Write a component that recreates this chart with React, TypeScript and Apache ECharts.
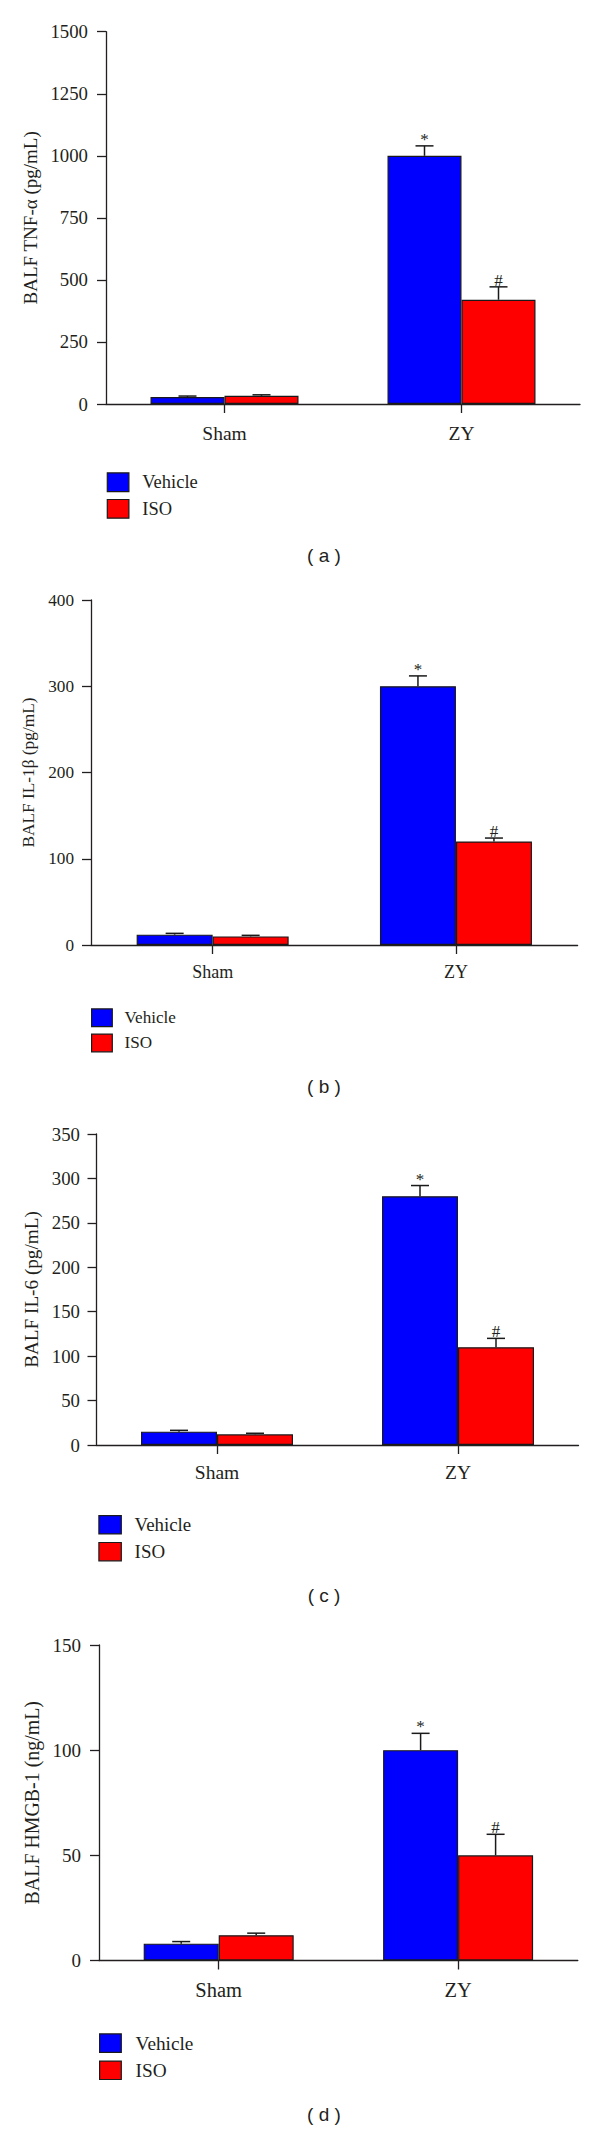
import React, { useEffect, useRef } from 'react';
import * as echarts from 'echarts';

// ---------- data ----------
const categories = ['Sham', 'ZY'];
const seriesNames = ['Vehicle', 'ISO'];

const tnfVehicle = [28, 1000];
const tnfVehicleErr = [4, 40];
const tnfIso = [33, 420];
const tnfIsoErr = [4, 52];

const il1bVehicle = [12, 300];
const il1bVehicleErr = [1.5, 12];
const il1bIso = [10, 120];
const il1bIsoErr = [1.2, 4];

const il6Vehicle = [15, 280];
const il6VehicleErr = [1.5, 12];
const il6Iso = [12, 110];
const il6IsoErr = [1.2, 10];

const hmgbVehicle = [8, 100];
const hmgbVehicleErr = [1, 8];
const hmgbIso = [12, 50];
const hmgbIsoErr = [1, 10];

const vehicleMarks = ['', '*'];
const isoMarks = ['', '#'];

const yNames = ['BALF TNF-α (pg/mL)', 'BALF IL-1β (pg/mL)', 'BALF IL-6 (pg/mL)', 'BALF HMGB-1 (ng/mL)'];
const yMax = [1500, 400, 350, 150];
const yStep = [250, 100, 50, 50];
const captions = ['( a )', '( b )', '( c )', '( d )'];

const vehicleValues = [tnfVehicle, il1bVehicle, il6Vehicle, hmgbVehicle];
const vehicleErrors = [tnfVehicleErr, il1bVehicleErr, il6VehicleErr, hmgbVehicleErr];
const isoValues = [tnfIso, il1bIso, il6Iso, hmgbIso];
const isoErrors = [tnfIsoErr, il1bIsoErr, il6IsoErr, hmgbIsoErr];

// ---------- layout / style ----------
const layouts = [
  { left: 106, top: 31.7, width: 474, height: 372.3, barWidth: 74, tickFont: 18.8, catFont: 19.5, nameFont: 19, nameGap: 64.5, labelMargin: 18, catMargin: 19, legendLeft: 106.7, legendTop: 472.3, iconW: 21.6, iconH: 18.7, legendGap: 6.7, legendFont: 18.5, legendPad: 8.4, captionY: 555 },
  { left: 91, top: 600, width: 486.6, height: 345, barWidth: 76, tickFont: 17.2, catFont: 18, nameFont: 17.3, nameGap: 52, labelMargin: 17, catMargin: 17.7, legendLeft: 91, legendTop: 1008.3, iconW: 20.7, iconH: 17.7, legendGap: 6.3, legendFont: 17.1, legendPad: 7.3, captionY: 1086 },
  { left: 96.5, top: 1134, width: 482, height: 311, barWidth: 76, tickFont: 18.8, catFont: 19.5, nameFont: 19.2, nameGap: 55.5, labelMargin: 16.5, catMargin: 17, legendLeft: 98.3, legendTop: 1515, iconW: 22.4, iconH: 18.3, legendGap: 7.4, legendFont: 18.9, legendPad: 8.3, captionY: 1595 },
  { left: 99, top: 1645, width: 478.8, height: 315.5, barWidth: 75, tickFont: 19, catFont: 20.5, nameFont: 19.9, nameGap: 57, labelMargin: 18, catMargin: 19.3, legendLeft: 99, legendTop: 2033.3, iconW: 21.7, iconH: 18.4, legendGap: 7.6, legendFont: 19.3, legendPad: 9.3, captionY: 2114 },
];

const TEXT = '#231f20';
const SERIF = '"Liberation Serif", "Times New Roman", serif';
const SANS = '"Liberation Sans", Arial, sans-serif';
const BLUE = '#0000ff';
const RED = '#ff0000';
const EDGE = '#1a1a1a';

function errorSeries(i: number, values: number[], errs: number[], marks: string[], side: number) {
  const L = layouts[i];
  return {
    type: 'custom',
    xAxisIndex: i,
    yAxisIndex: i,
    z: 5,
    silent: true,
    data: values.map((v, k) => [k, v, errs[k]]),
    encode: { x: 0, y: 1 },
    renderItem: (params: any, api: any) => {
      const k = api.value(0);
      const v = api.value(1);
      const e = api.value(2);
      const p0 = api.coord([k, v]);
      const p1 = api.coord([k, v + e]);
      const cx = p0[0] + (side * L.barWidth) / 2;
      const children: any[] = [
        { type: 'line', shape: { x1: cx, y1: p0[1], x2: cx, y2: p1[1] }, style: { stroke: EDGE, lineWidth: 1.5 } },
        { type: 'line', shape: { x1: cx - 9, y1: p1[1], x2: cx + 9, y2: p1[1] }, style: { stroke: EDGE, lineWidth: 1.5 } },
      ];
      const m = marks[params.dataIndex];
      if (m) {
        children.push({
          type: 'text',
          style: {
            text: m, x: cx, y: p1[1] + 2, align: 'center', verticalAlign: 'bottom',
            fontSize: 17, fontFamily: SERIF, fill: TEXT,
          },
        });
      }
      return { type: 'group', children };
    },
  };
}

export default function App() {
  const ref = useRef<HTMLDivElement>(null);
  useEffect(() => {
    if (!ref.current) return;
    const chart = echarts.init(ref.current, undefined, { renderer: 'svg' });

    const grid: any[] = [];
    const xAxis: any[] = [];
    const yAxis: any[] = [];
    const series: any[] = [];
    const legend: any[] = [];
    const graphic: any[] = [];

    layouts.forEach((L, i) => {
      grid.push({ left: L.left, top: L.top, width: L.width, height: L.height, containLabel: false });
      xAxis.push({
        type: 'category', gridIndex: i, data: categories,
        axisLine: { show: true, lineStyle: { color: TEXT, width: 1.3 } },
        axisTick: { show: true, alignWithLabel: true, length: 9, lineStyle: { color: TEXT, width: 1.3 } },
        axisLabel: { fontFamily: SERIF, fontSize: L.catFont, color: TEXT, margin: L.catMargin },
        splitLine: { show: false },
      });
      yAxis.push({
        type: 'value', gridIndex: i, min: 0, max: yMax[i], interval: yStep[i],
        name: yNames[i], nameLocation: 'middle', nameGap: L.nameGap,
        nameTextStyle: { fontFamily: SERIF, fontSize: L.nameFont, color: TEXT },
        axisLine: { show: true, lineStyle: { color: TEXT, width: 1.3 } },
        axisTick: { show: true, length: 9, lineStyle: { color: TEXT, width: 1.3 } },
        axisLabel: {
          fontFamily: SERIF, fontSize: L.tickFont, color: TEXT, margin: L.labelMargin,
          formatter: (v: number) => String(v),
        },
        splitLine: { show: false },
      });
      series.push({
        type: 'bar', name: seriesNames[0], xAxisIndex: i, yAxisIndex: i, data: vehicleValues[i],
        barWidth: L.barWidth, barGap: '0%',
        itemStyle: { color: BLUE, borderColor: EDGE, borderWidth: 1.2 },
      });
      series.push({
        type: 'bar', name: seriesNames[1], xAxisIndex: i, yAxisIndex: i, data: isoValues[i],
        barWidth: L.barWidth, barGap: '0%',
        itemStyle: { color: RED, borderColor: EDGE, borderWidth: 1.2 },
      });
      series.push(errorSeries(i, vehicleValues[i], vehicleErrors[i], vehicleMarks, -1));
      series.push(errorSeries(i, isoValues[i], isoErrors[i], isoMarks, 1));
      legend.push({
        orient: 'vertical', left: L.legendLeft, top: L.legendTop, padding: 0,
        itemWidth: L.iconW, itemHeight: L.iconH, itemGap: L.legendGap,
        data: seriesNames, selectedMode: false, icon: 'rect',
        itemStyle: { borderColor: EDGE, borderWidth: 1.2 },
        textStyle: { fontFamily: SERIF, fontSize: L.legendFont, color: TEXT, padding: [0, 0, 0, L.legendPad], lineHeight: L.iconH },
      });
      graphic.push({
        type: 'text', x: 324, y: L.captionY,
        style: {
          text: captions[i], align: 'center', verticalAlign: 'middle', textAlign: 'center', textVerticalAlign: 'middle',
          fontFamily: SANS, fontSize: 19, fill: TEXT,
        },
      });
    });

    chart.setOption({
      animation: false,
      backgroundColor: '#ffffff',
      textStyle: { fontFamily: SERIF },
      grid, xAxis, yAxis, series, legend, graphic,
    });
    return () => chart.dispose();
  }, []);
  return (
    <div
      ref={ref}
      style={{ position: 'absolute', left: 0, top: 0, width: 600, height: 2131, background: '#fff' }}
    />
  );
}
